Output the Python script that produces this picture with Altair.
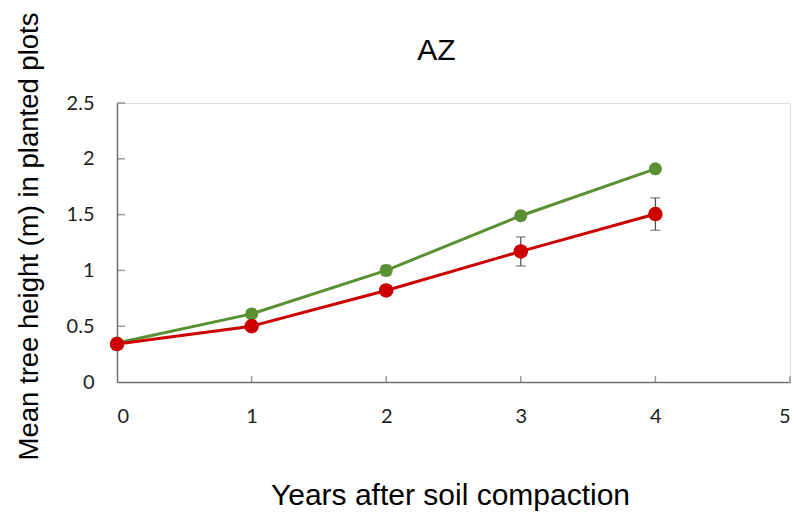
import altair as alt
import pandas as pd

# Mean tree height by year after soil compaction, two treatments
years = [0, 1, 2, 3, 4]
series_names = ["Uncompacted", "Compacted"]
green_mean = [0.35, 0.61, 1.00, 1.49, 1.91]
green_err = [0.01, 0.015, 0.045, 0.035, 0.02]
red_mean = [0.34, 0.50, 0.82, 1.17, 1.505]
red_err = [0.01, 0.01, 0.02, 0.13, 0.145]

x_ticks = [0, 1, 2, 3, 4, 5]
y_ticks = [0, 0.5, 1, 1.5, 2, 2.5]

GREEN = "#5A8F32"
RED = "#CC0000"
AXIS_GREY = "#707070"
LABEL_FONT = "Lato"
LABEL_COLOR = "#1e1e1e"
TITLE_FONT = "Liberation Sans"

rows = []
for name, means, errs in [(series_names[0], green_mean, green_err),
                          (series_names[1], red_mean, red_err)]:
    for yr, m, e in zip(years, means, errs):
        rows.append({"year": yr, "height": m, "lo": m - e, "hi": m + e, "series": name})
df = pd.DataFrame(rows)

x_scale = alt.Scale(domain=[0, 5], nice=False, zero=False)
y_scale = alt.Scale(domain=[0, 2.5], nice=False)
color_scale = alt.Scale(domain=series_names, range=[GREEN, RED])

x_axis = alt.Axis(
    values=x_ticks, format="d", ticks=False, grid=False,
    domainColor=AXIS_GREY, domainWidth=1.5,
    labelFont=LABEL_FONT, labelFontSize=20, labelColor=LABEL_COLOR,
    labelPadding=24, labelBaseline="top",
    title="Years after soil compaction", titleFont=TITLE_FONT,
    titleFontSize=30, titleFontWeight="normal", titleColor="#000000",
    titleX=333, titleY=122, titleBaseline="alphabetic", titleAlign="center",
)
y_axis = alt.Axis(
    values=y_ticks, ticks=False, grid=False,
    domainColor=AXIS_GREY, domainWidth=1.5,
    labelFont=LABEL_FONT, labelFontSize=20, labelColor=LABEL_COLOR,
    labelPadding=23, labelExpr="format(datum.value, '~g')",
    title="Mean tree height (m) in planted plots", titleFont=TITLE_FONT,
    titleFontSize=27.5, titleFontWeight="normal", titleColor="#000000",
    titleX=-80, titleY=133, titleAngle=-90, titleBaseline="alphabetic",
    titleAlign="center",
)

base = alt.Chart(df)

# inward-pointing axis ticks
xt = pd.DataFrame({"year": x_ticks[1:], "height": [0] * (len(x_ticks) - 1)})
yt = pd.DataFrame({"year": [0] * (len(y_ticks) - 1), "height": y_ticks[1:]})
x_tick_marks = alt.Chart(xt).mark_tick(
    orient="vertical", size=6, thickness=1.5, color=AXIS_GREY, yOffset=-3
).encode(
    x=alt.X("year:Q", scale=x_scale, axis=x_axis),
    y=alt.Y("height:Q", scale=y_scale, axis=y_axis),
)
y_tick_marks = alt.Chart(yt).mark_tick(
    orient="horizontal", size=8, thickness=1.5, color=AXIS_GREY, xOffset=4
).encode(
    x=alt.X("year:Q", scale=x_scale),
    y=alt.Y("height:Q", scale=y_scale),
)

lines = base.mark_line(strokeWidth=3).encode(
    x=alt.X("year:Q", scale=x_scale),
    y=alt.Y("height:Q", scale=y_scale),
    color=alt.Color("series:N", scale=color_scale, legend=None),
    order=alt.Order("year:Q"),
)

err_rules = base.mark_rule(color="#555555", strokeWidth=1.3).encode(
    x=alt.X("year:Q", scale=x_scale),
    y=alt.Y("lo:Q", scale=y_scale),
    y2="hi:Q",
)
cap_lo = base.mark_tick(orient="horizontal", size=10, thickness=1.3, color="#555555").encode(
    x=alt.X("year:Q", scale=x_scale),
    y=alt.Y("lo:Q", scale=y_scale),
)
cap_hi = base.mark_tick(orient="horizontal", size=10, thickness=1.3, color="#555555").encode(
    x=alt.X("year:Q", scale=x_scale),
    y=alt.Y("hi:Q", scale=y_scale),
)

green_pts = alt.Chart(df[df.series == series_names[0]]).mark_circle(
    size=170, opacity=1, color=GREEN
).encode(
    x=alt.X("year:Q", scale=x_scale),
    y=alt.Y("height:Q", scale=y_scale),
)
red_pts = alt.Chart(df[df.series == series_names[1]]).mark_circle(
    size=210, opacity=1, color=RED
).encode(
    x=alt.X("year:Q", scale=x_scale),
    y=alt.Y("height:Q", scale=y_scale),
)

chart = alt.layer(
    x_tick_marks, y_tick_marks, lines, err_rules, cap_lo, cap_hi, green_pts, red_pts
).properties(
    width=673,
    height=279,
    autosize=alt.AutoSizeParams(type="none"),
    padding={"left": 117, "top": 103, "right": 6, "bottom": 131},
    title=alt.TitleParams(
        "AZ", font=TITLE_FONT, fontSize=30, fontWeight="normal", color="#000000",
        anchor="middle", dx=-17, offset=-78, baseline="alphabetic",
    ),
).configure_view(stroke=None).configure(background="white")

chart.save("out.html", embed_options={"renderer": "svg", "actions": False})
